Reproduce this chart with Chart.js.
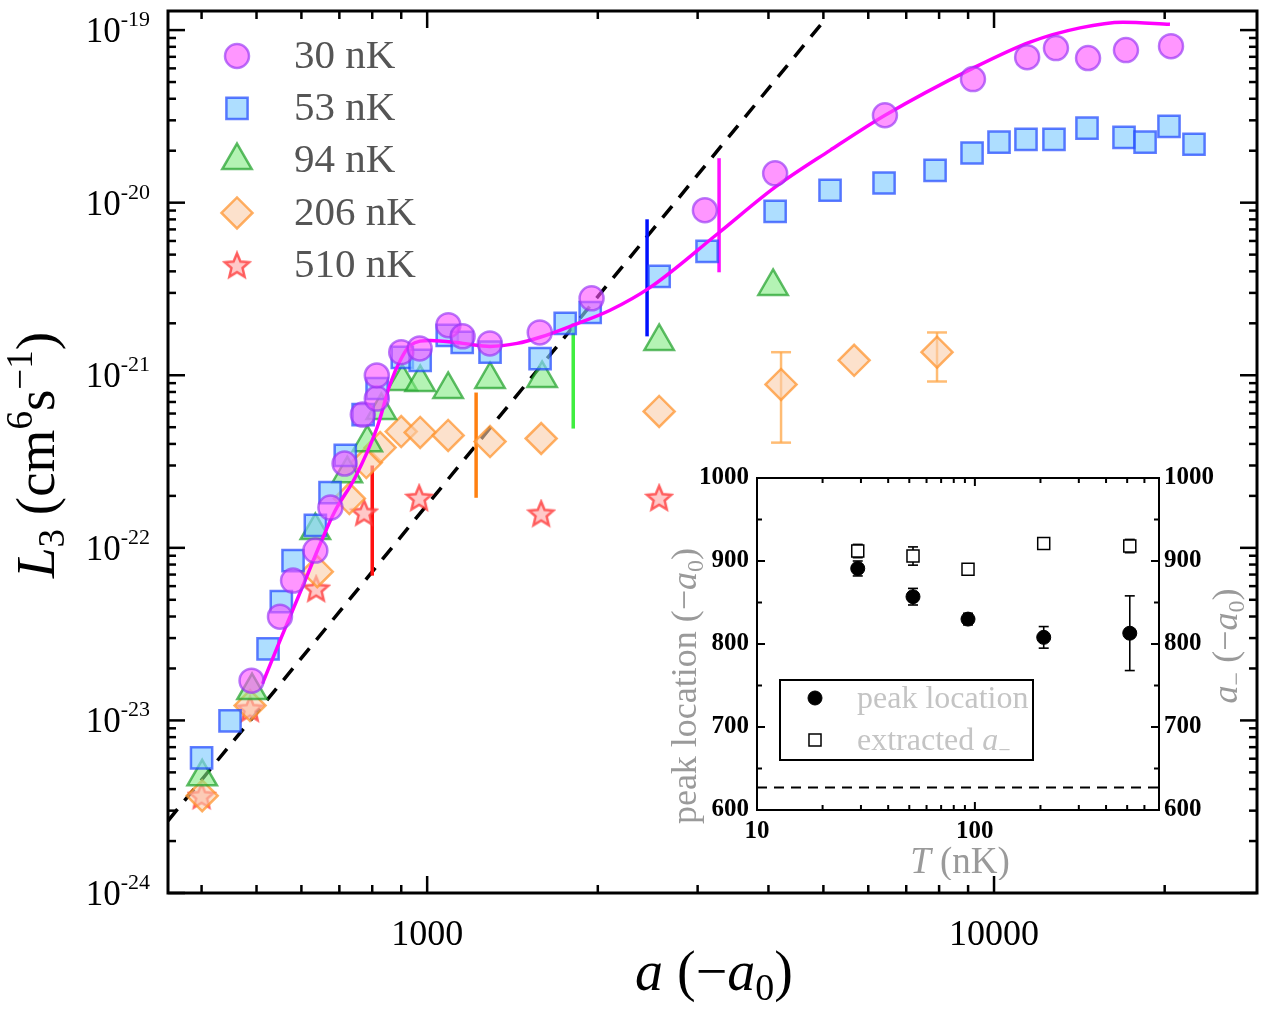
<!DOCTYPE html>
<html>
<head>
<meta charset="utf-8">
<script src="https://cdn.jsdelivr.net/npm/chart.js@4.4.0/dist/chart.umd.min.js"></script>
<style>
  body { margin: 0; background: #fff; }
  #wrap { position: relative; width: 1269px; height: 1013px; }
  #main { position: absolute; left: 0; top: 0; }
  #inset { position: absolute; left: 660px; top: 460px; }
</style>
</head>
<body>
<div id="wrap">
  <canvas id="main" width="1269" height="1013"></canvas>
  <canvas id="inset" width="609" height="420"></canvas>
</div>
<script>
// ---------- main plot data: a (-a0) vs L3 (cm^6 s^-1) ----------
var seriesNames = ['30 nK', '53 nK', '94 nK', '206 nK', '510 nK'];

var t30A = [490, 550, 580, 635, 675, 715, 770, 815, 815, 900, 970, 1090, 1155, 1290, 1580, 1950, 3090, 4110, 6420, 9180, 11440, 12860, 14650, 17090, 20520];
var t30L = [1.70e-23, 3.99e-23, 6.46e-23, 9.64e-23, 1.71e-22, 3.08e-22, 5.92e-22, 7.33e-22, 9.97e-22, 1.36e-21, 1.43e-21, 1.95e-21, 1.68e-21, 1.53e-21, 1.77e-21, 2.79e-21, 9.04e-21, 1.48e-20, 3.21e-20, 5.20e-20, 6.97e-20, 7.87e-20, 6.89e-20, 7.66e-20, 8.07e-20];

var t53A = [400, 449, 524, 553, 580, 635, 674, 717, 771, 816, 904, 972, 1085, 1153, 1291, 1582, 1752, 1939, 2566, 3117, 4110, 5137, 6397, 7870, 9146, 10205, 11386, 12757, 14588, 16955, 18470, 20354, 22530];
var t53L = [6.07e-24, 9.95e-24, 2.60e-23, 4.88e-23, 8.43e-23, 1.35e-22, 2.09e-22, 3.43e-22, 5.92e-22, 8.38e-22, 1.27e-21, 1.22e-21, 1.70e-21, 1.55e-21, 1.36e-21, 1.25e-21, 2.00e-21, 2.31e-21, 3.74e-21, 5.22e-21, 8.91e-21, 1.18e-20, 1.30e-20, 1.54e-20, 1.94e-20, 2.24e-20, 2.33e-20, 2.33e-20, 2.70e-20, 2.39e-20, 2.24e-20, 2.77e-20, 2.18e-20];

var t94A = [401, 491, 635, 723, 784, 830, 904, 972, 1089, 1291, 1595, 2566, 4076];
var t94L = [4.71e-24, 1.49e-23, 1.26e-22, 2.69e-22, 4.07e-22, 6.25e-22, 9.20e-22, 9.08e-22, 8.28e-22, 9.46e-22, 9.58e-22, 1.57e-21, 3.27e-21];

var t206A = [401, 487, 640, 729, 781, 826, 900, 972, 1089, 1291, 1589, 2566, 4210, 5665, 7933];
var t206L = [3.66e-24, 1.22e-23, 7.28e-23, 1.93e-22, 3.12e-22, 3.81e-22, 4.72e-22, 4.66e-22, 4.48e-22, 4.13e-22, 4.30e-22, 6.17e-22, 8.85e-22, 1.22e-21, 1.36e-21];
var t206Lo = [null, null, null, null, null, null, null, null, null, null, null, null, 4.07e-22, null, 9.20e-22];
var t206Hi = [null, null, null, null, null, null, null, null, null, null, null, null, 1.36e-21, null, 1.77e-21];

var t510A = [400, 487, 637, 774, 968, 1589, 2566];
var t510L = [3.66e-24, 1.17e-23, 5.80e-23, 1.60e-22, 1.95e-22, 1.58e-22, 1.95e-22];

// fit curve for 30 nK
var fitA = [512, 550, 609, 648, 688, 746, 816, 861, 900, 933, 1012, 1157, 1291, 1441, 1582, 1809, 2102, 2474, 3262, 4110, 5137, 6424, 9183, 11575, 14180, 16886, 20434];
var fitL = [1.63e-23, 2.90e-23, 6.46e-23, 1.06e-22, 1.64e-22, 2.55e-22, 4.98e-22, 8.96e-22, 1.25e-21, 1.49e-21, 1.59e-21, 1.53e-21, 1.47e-21, 1.53e-21, 1.66e-21, 1.95e-21, 2.38e-21, 3.23e-21, 6.65e-21, 1.23e-20, 2.01e-20, 3.21e-20, 6.02e-20, 8.52e-20, 1.03e-19, 1.11e-19, 1.08e-19];

// dashed a^4 guide
var guideA = [349, 5053];
var guideL = [2.62e-24, 1.17e-19];

// vertical peak markers
var markA = [800, 1220, 1810, 2443, 3273];
var markLo = [6.9e-23, 1.95e-22, 4.91e-22, 1.68e-21, 3.95e-21];
var markHi = [3.0e-22, 7.94e-22, 2.0e-21, 8.01e-21, 1.81e-20];

var yTicks = [1e-24, 1e-23, 1e-22, 1e-21, 1e-20, 1e-19];
var yTickExp = ['-24', '-23', '-22', '-21', '-20', '-19'];
var xTicks = [1000, 10000];
var xTickLabels = ['1000', '10000'];

// ---------- inset data ----------
var insetT = [29, 52, 93, 207, 514];
var peakLoc = [891, 857, 830, 808, 813];
var peakErr = [9, 10, 7, 13, 45];
var aMinus = [912, 906, 890, 921, 918];
var aMinusErr = [8, 11, 6, 5, 8];
var insetFloor = 627;
var insetYTicks = [600, 700, 800, 900, 1000];
var insetXTicks = [10, 100];
var insetXTickLabels = ['10', '100'];

var SERIF = '"Liberation Serif", "DejaVu Serif", serif';

function pts(xs, ys) {
  return xs.map(function (v, i) { return {x: v, y: ys[i]}; });
}

function line(ctx, x1, y1, x2, y2) {
  ctx.beginPath(); ctx.moveTo(x1, y1); ctx.lineTo(x2, y2); ctx.stroke();
}

// draw mixed-font text (sub/superscripts), baseline at (x, y)
function richText(ctx, parts, x, y, align, rot, color) {
  ctx.save();
  ctx.translate(x, y);
  ctx.rotate(rot || 0);
  ctx.textAlign = 'left';
  ctx.textBaseline = 'alphabetic';
  ctx.fillStyle = color;
  var w = 0;
  parts.forEach(function (p) { ctx.font = p.f; p.w = ctx.measureText(p.t).width; w += p.w; });
  var cx = align === 'center' ? -w / 2 : (align === 'right' ? -w : 0);
  parts.forEach(function (p) { ctx.font = p.f; ctx.fillText(p.t, cx, p.dy || 0); cx += p.w; });
  ctx.restore();
}

// filled five point star used as pointStyle
function makeStar(size, fill, stroke) {
  var c = document.createElement('canvas');
  c.width = size; c.height = size;
  var g = c.getContext('2d');
  var r1 = size / 2 - 2, r2 = r1 * 0.45, cx = size / 2, cy = size / 2 + 1;
  g.beginPath();
  for (var k = 0; k < 10; k++) {
    var r = k % 2 === 0 ? r1 : r2;
    var a = -Math.PI / 2 + k * Math.PI / 5;
    g.lineTo(cx + r * Math.cos(a), cy + r * Math.sin(a));
  }
  g.closePath();
  g.fillStyle = fill; g.fill();
  g.lineWidth = 2.5; g.strokeStyle = stroke; g.stroke();
  return c;
}

var errorBars = {
  id: 'errorBars',
  beforeDatasetsDraw: function (chart) {
    var ctx = chart.ctx;
    chart.data.datasets.forEach(function (ds, i) {
      if (!ds.errLo && !ds.err) return;
      var meta = chart.getDatasetMeta(i);
      var ys = chart.scales[meta.yAxisID];
      ctx.save();
      ctx.strokeStyle = ds.errColor;
      ctx.lineWidth = ds.errWidth;
      meta.data.forEach(function (pt, j) {
        var v = ds.data[j].y;
        var lo = ds.err ? v - ds.err[j] : ds.errLo[j];
        var hi = ds.err ? v + ds.err[j] : ds.errHi[j];
        if (lo == null || hi == null) return;
        var y1 = ys.getPixelForValue(lo), y2 = ys.getPixelForValue(hi), c = ds.capHalf;
        line(ctx, pt.x, y1, pt.x, y2);
        line(ctx, pt.x - c, y1, pt.x + c, y1);
        line(ctx, pt.x - c, y2, pt.x + c, y2);
      });
      ctx.restore();
    });
  }
};

var mainFrame = {
  id: 'mainFrame',
  afterDraw: function (chart) {
    var ctx = chart.ctx, ca = chart.chartArea, x = chart.scales.x, y = chart.scales.y;
    ctx.save();
    ctx.strokeStyle = '#000';
    ctx.lineWidth = 3;
    ctx.strokeRect(ca.left, ca.top, ca.right - ca.left, ca.bottom - ca.top);
    ctx.lineWidth = 2.5;
    var e, m, v, p, len;
    for (e = 2; e <= 4; e++) for (m = 1; m <= 9; m++) {
      v = m * Math.pow(10, e);
      if (v < x.min || v > x.max) continue;
      p = x.getPixelForValue(v); len = m === 1 ? 17 : 8;
      line(ctx, p, ca.bottom, p, ca.bottom - len);
      line(ctx, p, ca.top, p, ca.top + len);
    }
    for (e = -24; e <= -19; e++) for (m = 1; m <= 9; m++) {
      v = m * Math.pow(10, e);
      if (v < y.min * 0.999 || v > y.max) continue;
      p = y.getPixelForValue(v); len = m === 1 ? 17 : 8;
      line(ctx, ca.left, p, ca.left + len, p);
      line(ctx, ca.right, p, ca.right - len, p);
    }
    // tick labels
    ctx.fillStyle = '#000';
    ctx.font = '36px ' + SERIF;
    ctx.textAlign = 'center';
    ctx.textBaseline = 'alphabetic';
    xTicks.forEach(function (t, i) {
      ctx.fillText(xTickLabels[i], x.getPixelForValue(t), ca.bottom + 52);
    });
    yTicks.forEach(function (t, i) {
      richText(ctx, [
        {t: '10', f: '35px ' + SERIF},
        {t: yTickExp[i], f: '22px ' + SERIF, dy: -16}
      ], 150, y.getPixelForValue(t) + 12, 'right', 0, '#000');
    });
    // axis titles
    richText(ctx, [
      {t: 'a', f: 'italic 56px ' + SERIF},
      {t: ' (\u2212', f: '56px ' + SERIF},
      {t: 'a', f: 'italic 56px ' + SERIF},
      {t: '0', f: '38px ' + SERIF, dy: 10},
      {t: ')', f: '56px ' + SERIF}
    ], 714, 990, 'center', 0, '#000');
    richText(ctx, [
      {t: 'L', f: 'italic 55px ' + SERIF},
      {t: '3', f: '37px ' + SERIF, dy: 10},
      {t: ' (cm', f: '55px ' + SERIF},
      {t: '6', f: '37px ' + SERIF, dy: -22},
      {t: 's', f: '55px ' + SERIF},
      {t: '\u22121', f: '37px ' + SERIF, dy: -22},
      {t: ')', f: '55px ' + SERIF}
    ], 54, 455, 'center', -Math.PI / 2, '#000');
    // legend inside plot
    var draw = Chart.helpers.drawPoint;
    chart.data.datasets.forEach(function (ds) {
      if (ds.legendRow == null) return;
      var ly = ca.top + 45 + ds.legendRow * 52.3, lx = ca.left + 69;
      ctx.fillStyle = ds.backgroundColor;
      ctx.strokeStyle = ds.borderColor;
      ctx.lineWidth = ds.borderWidth;
      draw(ctx, {pointStyle: ds.pointStyle, radius: ds.pointRadius, rotation: 0, borderWidth: ds.borderWidth}, lx, ly);
      ctx.fillStyle = '#555';
      ctx.font = '41px ' + SERIF;
      ctx.textAlign = 'left';
      ctx.textBaseline = 'middle';
      ctx.fillText(ds.label, ca.left + 126, ly + 1);
    });
    ctx.restore();
  }
};

var starImg = makeStar(30, 'rgba(255,170,170,0.65)', 'rgba(255,50,50,0.75)');

var markSets = markA.map(function (a, i) {
  var colors = ['#ff1010', '#ff8010', '#40ee40', '#0010ff', '#ff10ff'];
  return {
    label: 'peak ' + i,
    data: [{x: a, y: markLo[i]}, {x: a, y: markHi[i]}],
    showLine: true, borderColor: colors[i], borderWidth: 3.5,
    pointRadius: 0, clip: 0, order: 7
  };
});

new Chart(document.getElementById('main'), {
  type: 'scatter',
  data: {
    datasets: [
      {label: seriesNames[0], legendRow: 0, data: pts(t30A, t30L), pointStyle: 'circle', pointRadius: 12,
       backgroundColor: 'rgba(255,80,255,0.6)', borderColor: 'rgba(150,50,245,0.65)', borderWidth: 2.5, order: 1},
      {label: 'fit', data: pts(fitA, fitL), showLine: true, borderColor: '#ff00ff', borderWidth: 3.5,
       pointRadius: 0, cubicInterpolationMode: 'monotone', clip: 0, order: 2},
      {label: seriesNames[1], legendRow: 1, data: pts(t53A, t53L), pointStyle: 'rect', pointRadius: 15,
       backgroundColor: 'rgba(130,205,255,0.65)', borderColor: 'rgba(30,70,255,0.7)', borderWidth: 2.5, order: 3},
      {label: seriesNames[2], legendRow: 2, data: pts(t94A, t94L), pointStyle: 'triangle', pointRadius: 17,
       backgroundColor: 'rgba(130,235,130,0.6)', borderColor: 'rgba(30,160,40,0.7)', borderWidth: 2.5, order: 4},
      {label: seriesNames[3], legendRow: 3, data: pts(t206A, t206L), pointStyle: 'rectRot', pointRadius: 15.5,
       backgroundColor: 'rgba(250,205,170,0.6)', borderColor: 'rgba(255,150,50,0.75)', borderWidth: 2.5, order: 5,
       errLo: t206Lo, errHi: t206Hi, errColor: 'rgba(255,165,70,0.75)', errWidth: 2.5, capHalf: 10},
      {label: seriesNames[4], legendRow: 4, data: pts(t510A, t510L), pointStyle: starImg, pointRadius: 14,
       backgroundColor: 'rgba(255,170,170,0.65)', borderColor: 'rgba(255,50,50,0.75)', borderWidth: 2.5, order: 6},
      {label: 'a^4', data: pts(guideA, guideL), showLine: true, borderColor: '#000', borderWidth: 3.5,
       borderDash: [15, 11], pointRadius: 0, clip: 0, order: 8}
    ].concat(markSets)
  },
  options: {
    responsive: false,
    animation: false,
    events: [],
    layout: {autoPadding: false, padding: {top: 11, right: 12, left: 0, bottom: 0}},
    plugins: {legend: {display: false}, tooltip: {enabled: false}},
    scales: {
      x: {type: 'logarithmic', min: 349, max: 29100,
          ticks: {display: false}, grid: {display: false}, border: {display: false},
          afterFit: function (s) { s.height = 120; }},
      y: {type: 'logarithmic', min: 1e-24, max: 1.29e-19,
          ticks: {display: false}, grid: {display: false}, border: {display: false},
          afterFit: function (s) { s.width = 168; }}
    }
  },
  plugins: [errorBars, mainFrame]
});

// ---------- inset ----------
var insetFrame = {
  id: 'insetFrame',
  afterDraw: function (chart) {
    var ctx = chart.ctx, ca = chart.chartArea, x = chart.scales.x, y = chart.scales.y;
    ctx.save();
    ctx.strokeStyle = '#000';
    ctx.lineWidth = 2;
    ctx.strokeRect(ca.left, ca.top, ca.right - ca.left, ca.bottom - ca.top);
    var e, m, v, p, len;
    for (e = 1; e <= 2; e++) for (m = 1; m <= 9; m++) {
      v = m * Math.pow(10, e);
      if (v < x.min || v > x.max) continue;
      p = x.getPixelForValue(v); len = m === 1 ? 8 : 5;
      line(ctx, p, ca.bottom, p, ca.bottom - len);
      line(ctx, p, ca.top, p, ca.top + len);
    }
    for (v = 600; v <= 1000; v += 50) {
      p = y.getPixelForValue(v); len = v % 100 === 0 ? 8 : 5;
      line(ctx, ca.left, p, ca.left + len, p);
      line(ctx, ca.right, p, ca.right - len, p);
    }
    ctx.fillStyle = '#000';
    ctx.font = 'bold 25px ' + SERIF;
    ctx.textBaseline = 'middle';
    insetYTicks.forEach(function (t) {
      var py = y.getPixelForValue(t);
      ctx.textAlign = 'right'; ctx.fillText(String(t), ca.left - 8, py);
      ctx.textAlign = 'left'; ctx.fillText(String(t), ca.right + 5, py);
    });
    ctx.textAlign = 'center';
    insetXTicks.forEach(function (t, i) {
      ctx.fillText(insetXTickLabels[i], x.getPixelForValue(t), ca.bottom + 22);
    });
    var g = '#9a9a9a';
    richText(ctx, [
      {t: 'T', f: 'italic 37px ' + SERIF},
      {t: ' (nK)', f: '37px ' + SERIF}
    ], 300, ca.bottom + 63, 'center', 0, g);
    richText(ctx, [
      {t: 'peak location (\u2212', f: '36px ' + SERIF},
      {t: 'a', f: 'italic 36px ' + SERIF},
      {t: '0', f: '24px ' + SERIF, dy: 7},
      {t: ')', f: '36px ' + SERIF}
    ], 36, 226, 'center', -Math.PI / 2, g);
    richText(ctx, [
      {t: 'a', f: 'italic 36px ' + SERIF},
      {t: '\u2212', f: '24px ' + SERIF, dy: 7},
      {t: ' (\u2212', f: '36px ' + SERIF},
      {t: 'a', f: 'italic 36px ' + SERIF},
      {t: '0', f: '24px ' + SERIF, dy: 7},
      {t: ')', f: '36px ' + SERIF}
    ], 577, 186, 'center', -Math.PI / 2, g);
    // legend box
    var bx = ca.left + 23, by = ca.top + 202;
    ctx.lineWidth = 2;
    ctx.strokeRect(bx, by, 253, 80);
    var draw = Chart.helpers.drawPoint;
    chart.data.datasets.forEach(function (ds) {
      if (ds.legendRow == null) return;
      var ly = by + 18 + ds.legendRow * 42;
      ctx.fillStyle = ds.backgroundColor;
      ctx.strokeStyle = ds.borderColor;
      ctx.lineWidth = ds.borderWidth;
      draw(ctx, {pointStyle: ds.pointStyle, radius: ds.pointRadius, rotation: 0, borderWidth: ds.borderWidth}, bx + 35, ly);
    });
    richText(ctx, [{t: 'peak location', f: '32px ' + SERIF}], bx + 77, by + 28, 'left', 0, '#c4c4c4');
    richText(ctx, [
      {t: 'extracted ', f: '32px ' + SERIF},
      {t: 'a', f: 'italic 32px ' + SERIF},
      {t: '\u2212', f: '22px ' + SERIF, dy: 7}
    ], bx + 77, by + 70, 'left', 0, '#c4c4c4');
    ctx.restore();
  }
};

new Chart(document.getElementById('inset'), {
  type: 'scatter',
  data: {
    datasets: [
      {label: 'peak location', legendRow: 0, data: pts(insetT, peakLoc), pointStyle: 'circle', pointRadius: 7,
       backgroundColor: '#000', borderColor: '#000', borderWidth: 1, order: 1,
       err: peakErr, errColor: '#000', errWidth: 1.6, capHalf: 5},
      {label: 'extracted a-', legendRow: 1, data: pts(insetT, aMinus), pointStyle: 'rect', pointRadius: 8.5,
       backgroundColor: '#fff', borderColor: '#000', borderWidth: 1.5, order: 2,
       err: aMinusErr, errColor: '#000', errWidth: 1.6, capHalf: 5},
      {label: 'floor', data: [{x: 10, y: insetFloor}, {x: 700, y: insetFloor}], showLine: true,
       borderColor: '#000', borderWidth: 2, borderDash: [10, 7], pointRadius: 0, clip: 0, order: 3}
    ]
  },
  options: {
    responsive: false,
    animation: false,
    events: [],
    layout: {autoPadding: false, padding: {top: 18, right: 0, left: 0, bottom: 0}},
    plugins: {legend: {display: false}, tooltip: {enabled: false}},
    scales: {
      x: {type: 'logarithmic', min: 10, max: 700,
          ticks: {display: false}, grid: {display: false}, border: {display: false},
          afterFit: function (s) { s.height = 70; }},
      y: {type: 'linear', position: 'left', min: 600, max: 1000,
          ticks: {display: false}, grid: {display: false}, border: {display: false},
          afterFit: function (s) { s.width = 97; }},
      y1: {type: 'linear', position: 'right', min: 600, max: 1000,
           ticks: {display: false}, grid: {display: false}, border: {display: false},
           afterFit: function (s) { s.width = 110; }}
    }
  },
  plugins: [errorBars, insetFrame]
});
</script>
</body>
</html>
